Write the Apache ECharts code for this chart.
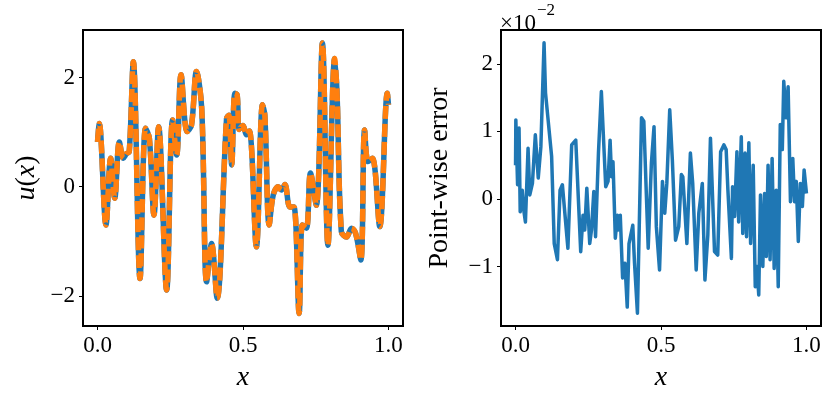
<!DOCTYPE html>
<html>
<head>
<meta charset="utf-8">
<script src="https://cdn.jsdelivr.net/npm/echarts@6/dist/echarts.min.js"></script>
<style>
  html, body { margin: 0; padding: 0; background: #fff; }
  #chart { width: 831px; height: 398px; }
</style>
</head>
<body>
<div id="chart"></div>
<script>
// left panel: exact solution u(x) and prediction (overlapping)
const uX = [0, 0.006, 0.029, 0.045, 0.059, 0.075, 0.089, 0.1, 0.109, 0.123, 0.146, 0.165, 0.178,
  0.194, 0.21, 0.2375, 0.258, 0.272, 0.287, 0.308, 0.323, 0.34, 0.358, 0.375, 0.392, 0.411,
  0.4435, 0.4515, 0.461, 0.472, 0.48, 0.487, 0.5, 0.512, 0.522, 0.546, 0.567, 0.575, 0.59,
  0.604, 0.621, 0.632, 0.644, 0.661, 0.675, 0.693, 0.704, 0.718, 0.732, 0.752, 0.773, 0.792,
  0.815, 0.823, 0.838, 0.856, 0.873, 0.887, 0.905, 0.918, 0.93, 0.945, 0.97, 0.996, 1.0];
const uExact = [0.82, 1.16, -0.70, 0.52, -0.21, 0.82, 0.52, 0.61, 0.64, 2.29, -1.68, 1.07, 0.89,
  -0.52, 1.10, -1.89, 1.22, 0.58, 2.05, 1.01, 1.13, 2.11, 1.44, -1.74, -1.04, -2.04,
  1.25, 1.31, 0.40, 1.71, 1.68, 1.05, 1.12, 0.95, 1.02, -1.10, 1.50, 1.31, -0.70,
  -0.15, 0.0, -0.06, 0.04, -0.37, -0.37, -2.32, -0.70, -0.76, 0.25, -0.34, 2.63, -1.07,
  2.35, 1.74, -0.82, -0.92, -0.76, -0.85, -1.34, 1.04, 0.46, 0.52, -0.73, 1.71, 1.50];
const uPred = uExact;

// right panel: point-wise error, in units of 1e-2
const errX = [0, 0.001, 0.007, 0.012, 0.016, 0.023, 0.028, 0.034, 0.043, 0.049, 0.058, 0.068,
  0.078, 0.087, 0.098, 0.103, 0.124, 0.133, 0.144, 0.153, 0.161, 0.18, 0.193, 0.207, 0.224,
  0.232, 0.238, 0.245, 0.255, 0.261, 0.269, 0.275, 0.285, 0.295, 0.31, 0.318, 0.325, 0.33,
  0.335, 0.343, 0.35, 0.353, 0.36, 0.368, 0.376, 0.384, 0.39, 0.403, 0.409, 0.419, 0.433,
  0.441, 0.456, 0.467, 0.476, 0.484, 0.495, 0.505, 0.513, 0.52, 0.53, 0.539, 0.55, 0.561,
  0.57, 0.575, 0.589, 0.601, 0.609, 0.621, 0.63, 0.642, 0.651, 0.661, 0.67, 0.684, 0.695,
  0.705, 0.716, 0.724, 0.73, 0.742, 0.746, 0.753, 0.761, 0.767, 0.776, 0.781, 0.789, 0.794,
  0.802, 0.808, 0.817, 0.824, 0.83, 0.836, 0.842, 0.85, 0.856, 0.862, 0.868, 0.875, 0.882,
  0.889, 0.896, 0.903, 0.91, 0.917, 0.922, 0.93, 0.937, 0.945, 0.953, 0.959, 0.965, 0.972,
  0.979, 0.986, 0.992, 1.0];
const errY = [0.50, 1.17, 0.21, 1.05, -0.19, 0.13, -0.16, -0.34, 0.75, 0.06, 0.23, 0.95,
  0.31, 0.77, 2.31, 1.57, 0.63, -0.66, -0.90, 0.13, 0.21, -0.73, 0.80, 0.87, -0.78,
  -0.24, -0.46, 0.16, -0.66, -0.46, 0.11, -0.56, 0.68, 1.59, 0.18, 0.26, 0.87, 0.33,
  0.55, -0.58, -0.24, -0.46, -0.24, -1.17, -0.95, -1.60, -0.66, -0.39, -0.95, -1.69, 1.20,
  1.15, -0.73, 0.53, 1.07, -0.41, -1.05, 0.26, -0.21, 0.23, 1.32, 0.58, -0.61, -0.41,
  0.36, 0.33, -0.66, 0.68, 0.23, -1.05, -0.21, 0.23, -1.20, -0.53, 0.90, -0.78, -0.83,
  0.70, 0.80, 0.73, 0.13, -0.88, 0.18, -0.26, 0.70, -0.34, 0.92, -0.51, 0.68, -0.56,
  0.83, -0.66, 0.50, -1.30, -1.00, -1.42, 0.06, -1.00, 0.08, -0.85, 0.50, -0.90, 0.60,
  -1.03, 0.13, -1.30, 1.10, 0.73, 1.74, 1.20, 1.66, -0.04, 0.60, -0.04, 0.26, -0.63,
  0.23, -0.11, 0.43, 0.08];

const xTicks = [0, 0.5, 1.0];
const uTicks = [-2, 0, 2];
const errTicks = [-1, 0, 1, 2];

const FONT = "Liberation Serif";
const fmtInt = (v) => (v < 0 ? "\u2212" + Math.abs(v) : String(v));

const chart = echarts.init(document.getElementById("chart"));

const xAxisBase = (gridIndex) => ({
  type: "value",
  gridIndex,
  min: -0.05,
  max: 1.05,
  name: "x",
  nameLocation: "middle",
  nameGap: 38,
  nameTextStyle: { fontFamily: FONT, fontStyle: "italic", fontSize: 28, color: "#000" },
  axisLine: { show: false, onZero: false },
  splitLine: { show: false },
  axisTick: { show: true, length: 4, lineStyle: { color: "#000", width: 1 }, customValues: xTicks },
  axisLabel: {
    customValues: xTicks,
    formatter: (v) => v.toFixed(1),
    fontFamily: FONT,
    fontSize: 23,
    color: "#000",
    margin: 8,
  },
});

const yAxisBase = (gridIndex, min, max, ticks) => ({
  type: "value",
  gridIndex,
  min,
  max,
  nameLocation: "middle",
  axisLine: { show: false, onZero: false },
  splitLine: { show: false },
  axisTick: { show: true, length: 4, lineStyle: { color: "#000", width: 1 }, customValues: ticks },
  axisLabel: {
    customValues: ticks,
    formatter: fmtInt,
    fontFamily: FONT,
    fontSize: 23,
    color: "#000",
    margin: 8,
  },
});

const gridBase = { top: 30, width: 320, height: 296, show: true, borderColor: "#000", borderWidth: 2,
  backgroundColor: "transparent", containLabel: false, outerBoundsMode: "none" };

const options = {
  animation: false,
  backgroundColor: "#fff",
  grid: [
    Object.assign({ left: 83 }, gridBase),
    Object.assign({ left: 501 }, gridBase),
  ],
  xAxis: [xAxisBase(0), xAxisBase(1)],
  yAxis: [
    Object.assign(yAxisBase(0, -2.55, 2.87, uTicks), {
      name: "{i|u}({i|x})",
      nameGap: 42,
      nameTextStyle: {
        fontFamily: FONT,
        fontSize: 28,
        color: "#000",
        rich: { i: { fontFamily: FONT, fontStyle: "italic", fontSize: 28, color: "#000" } },
      },
    }),
    Object.assign(yAxisBase(1, -1.88, 2.5, errTicks), {
      name: "Point-wise error",
      nameGap: 47,
      nameTextStyle: { fontFamily: FONT, fontSize: 28, color: "#000" },
    }),
  ],
  graphic: [
    {
      type: "text",
      left: 500,
      top: 2,
      style: {
        text: "{a|\u00d710}{b|\u22122}",
        rich: {
          a: { fontFamily: FONT, fontSize: 23, fill: "#000", padding: [10, 0, 0, 0] },
          b: { fontFamily: FONT, fontSize: 17, fill: "#000", verticalAlign: "top", padding: [0, 0, 10, 1] },
        },
      },
    },
  ],
  series: [
    {
      name: "Exact",
      type: "line",
      xAxisIndex: 0,
      yAxisIndex: 0,
      data: uX.map((x, i) => [x, uExact[i]]),
      smooth: 0.35,
      showSymbol: false,
      lineStyle: { color: "#1f77b4", width: 5.5 },
      z: 2,
    },
    {
      name: "Prediction",
      type: "line",
      xAxisIndex: 0,
      yAxisIndex: 0,
      data: uX.map((x, i) => [x, uPred[i]]),
      smooth: 0.35,
      showSymbol: false,
      lineStyle: { color: "#ff7f0e", width: 5.5, type: [13, 5] },
      z: 3,
    },
    {
      name: "Error",
      type: "line",
      xAxisIndex: 1,
      yAxisIndex: 1,
      data: errX.map((x, i) => [x, errY[i]]),
      showSymbol: false,
      lineStyle: { color: "#1f77b4", width: 3.5, join: "round" },
      z: 2,
    },
  ],
};

chart.setOption(options);
</script>
</body>
</html>
